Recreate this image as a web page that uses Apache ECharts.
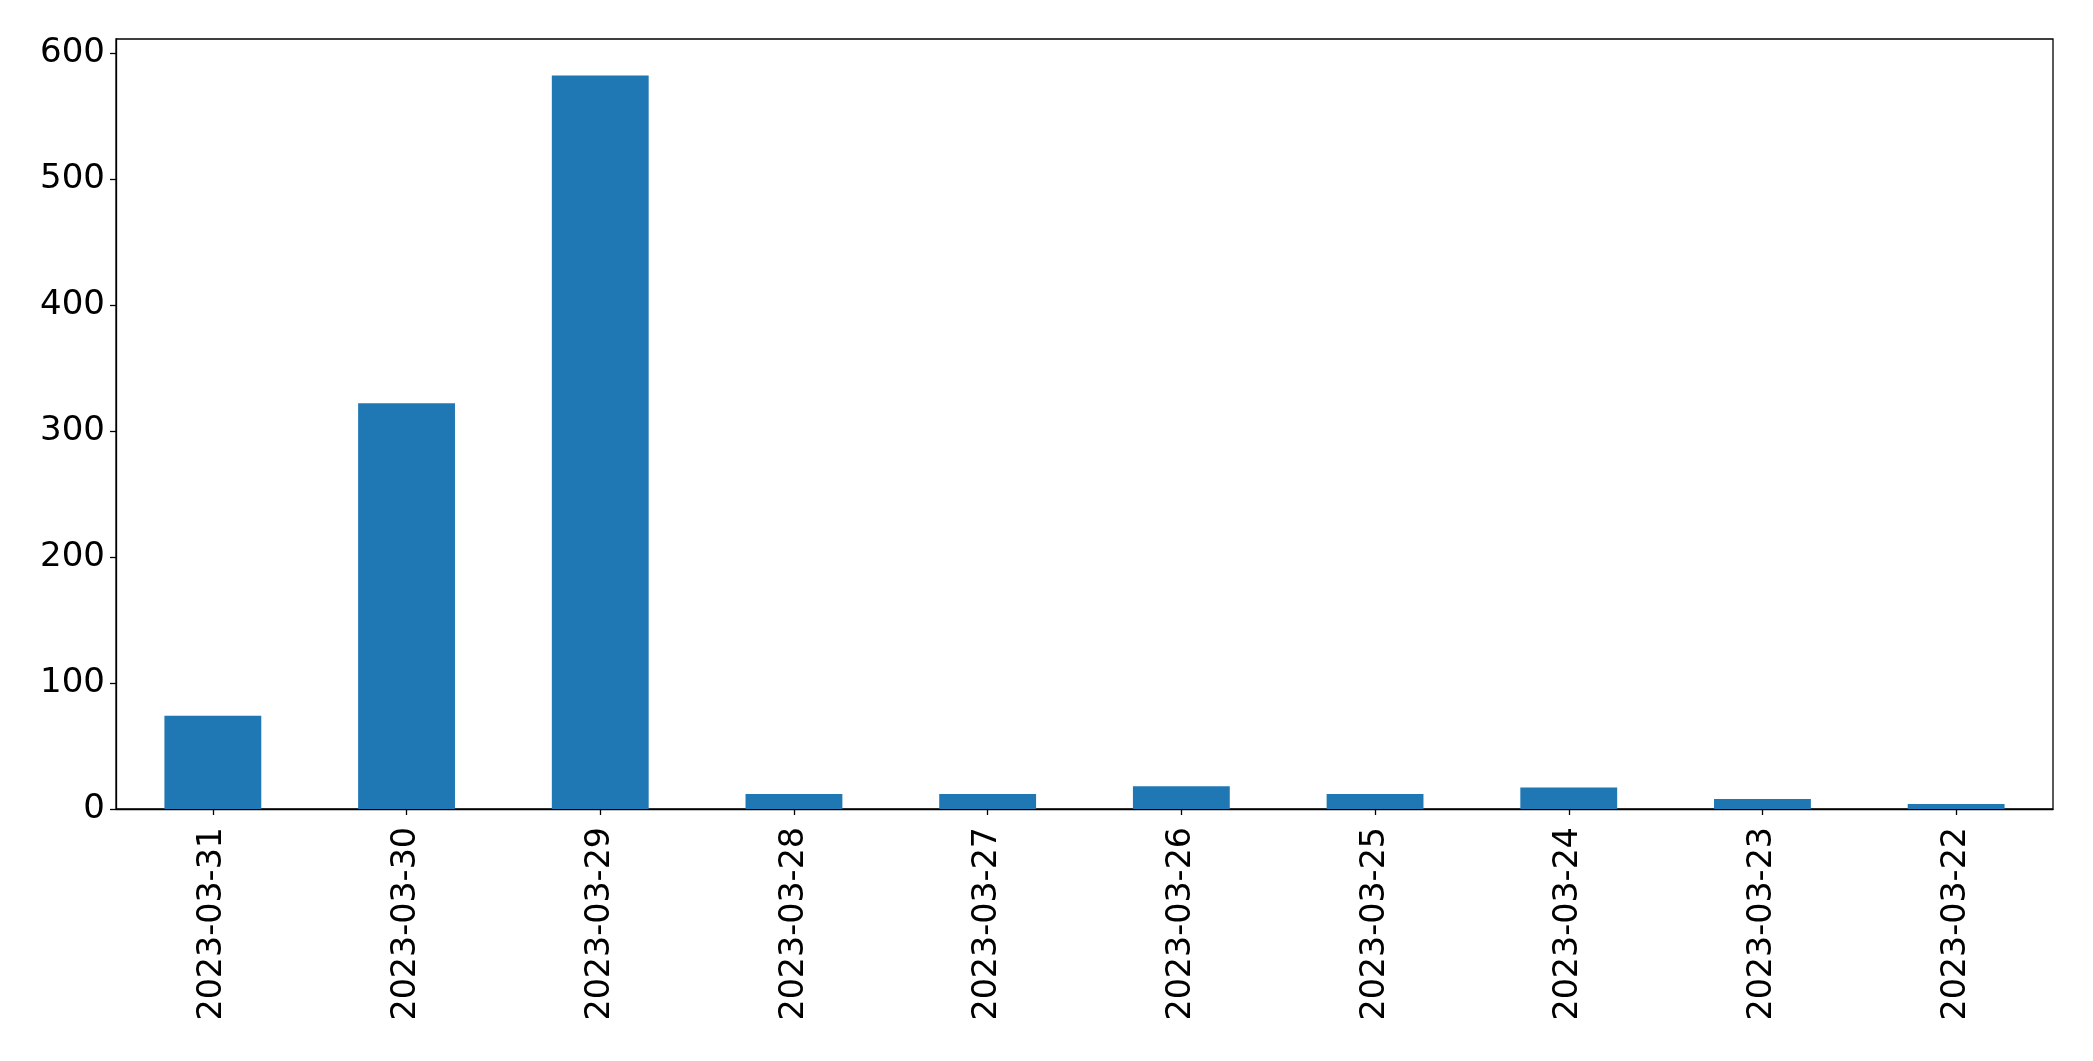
<!DOCTYPE html>
<html>
<head>
<meta charset="utf-8">
<script src="https://cdn.jsdelivr.net/npm/echarts@6/dist/echarts.min.js"></script>
<style>
html,body{margin:0;padding:0;background:#fff;}
#chart{width:2093px;height:1061px;}
</style>
</head>
<body>
<div id="chart"></div>
<script>
const categories = ["2023-03-31","2023-03-30","2023-03-29","2023-03-28","2023-03-27","2023-03-26","2023-03-25","2023-03-24","2023-03-23","2023-03-22"];
const counts = [74, 322, 582, 12, 12, 18, 12, 17, 8, 4];
const yTicks = [0, 100, 200, 300, 400, 500, 600];
const yMax = 611;

const chart = echarts.init(document.getElementById('chart'), null, {renderer: 'canvas'});
const font = 'DejaVu Sans';
chart.setOption({
  animation: false,
  backgroundColor: '#fff',
  grid: {left: 116, right: 40, top: 39, bottom: 252, show: true, borderColor: '#000', borderWidth: 1.3, backgroundColor: 'transparent'},
  xAxis: {
    type: 'category',
    data: categories,
    axisLine: {show: true, lineStyle: {color: '#000', width: 1.3}},
    axisTick: {show: true, alignWithLabel: true, length: 6, lineStyle: {color: '#000', width: 1.3}},
    axisLabel: {rotate: 90, margin: 18, color: '#000', fontFamily: font, fontSize: 33.3, interval: 0},
    splitLine: {show: false}
  },
  yAxis: {
    type: 'value',
    min: 0,
    max: yMax,
    interval: 100,
    axisLine: {show: true, lineStyle: {color: '#000', width: 1.3}},
    axisTick: {show: true, length: 6, lineStyle: {color: '#000', width: 1.3}, customValues: yTicks},
    axisLabel: {margin: 11, color: '#000', fontFamily: font, fontSize: 34, padding: [10, 0, 0, 0], customValues: yTicks},
    splitLine: {show: false}
  },
  series: [{
    type: 'bar',
    data: counts,
    barWidth: '50%',
    itemStyle: {color: '#1f77b4'}
  }]
});
</script>
</body>
</html>
